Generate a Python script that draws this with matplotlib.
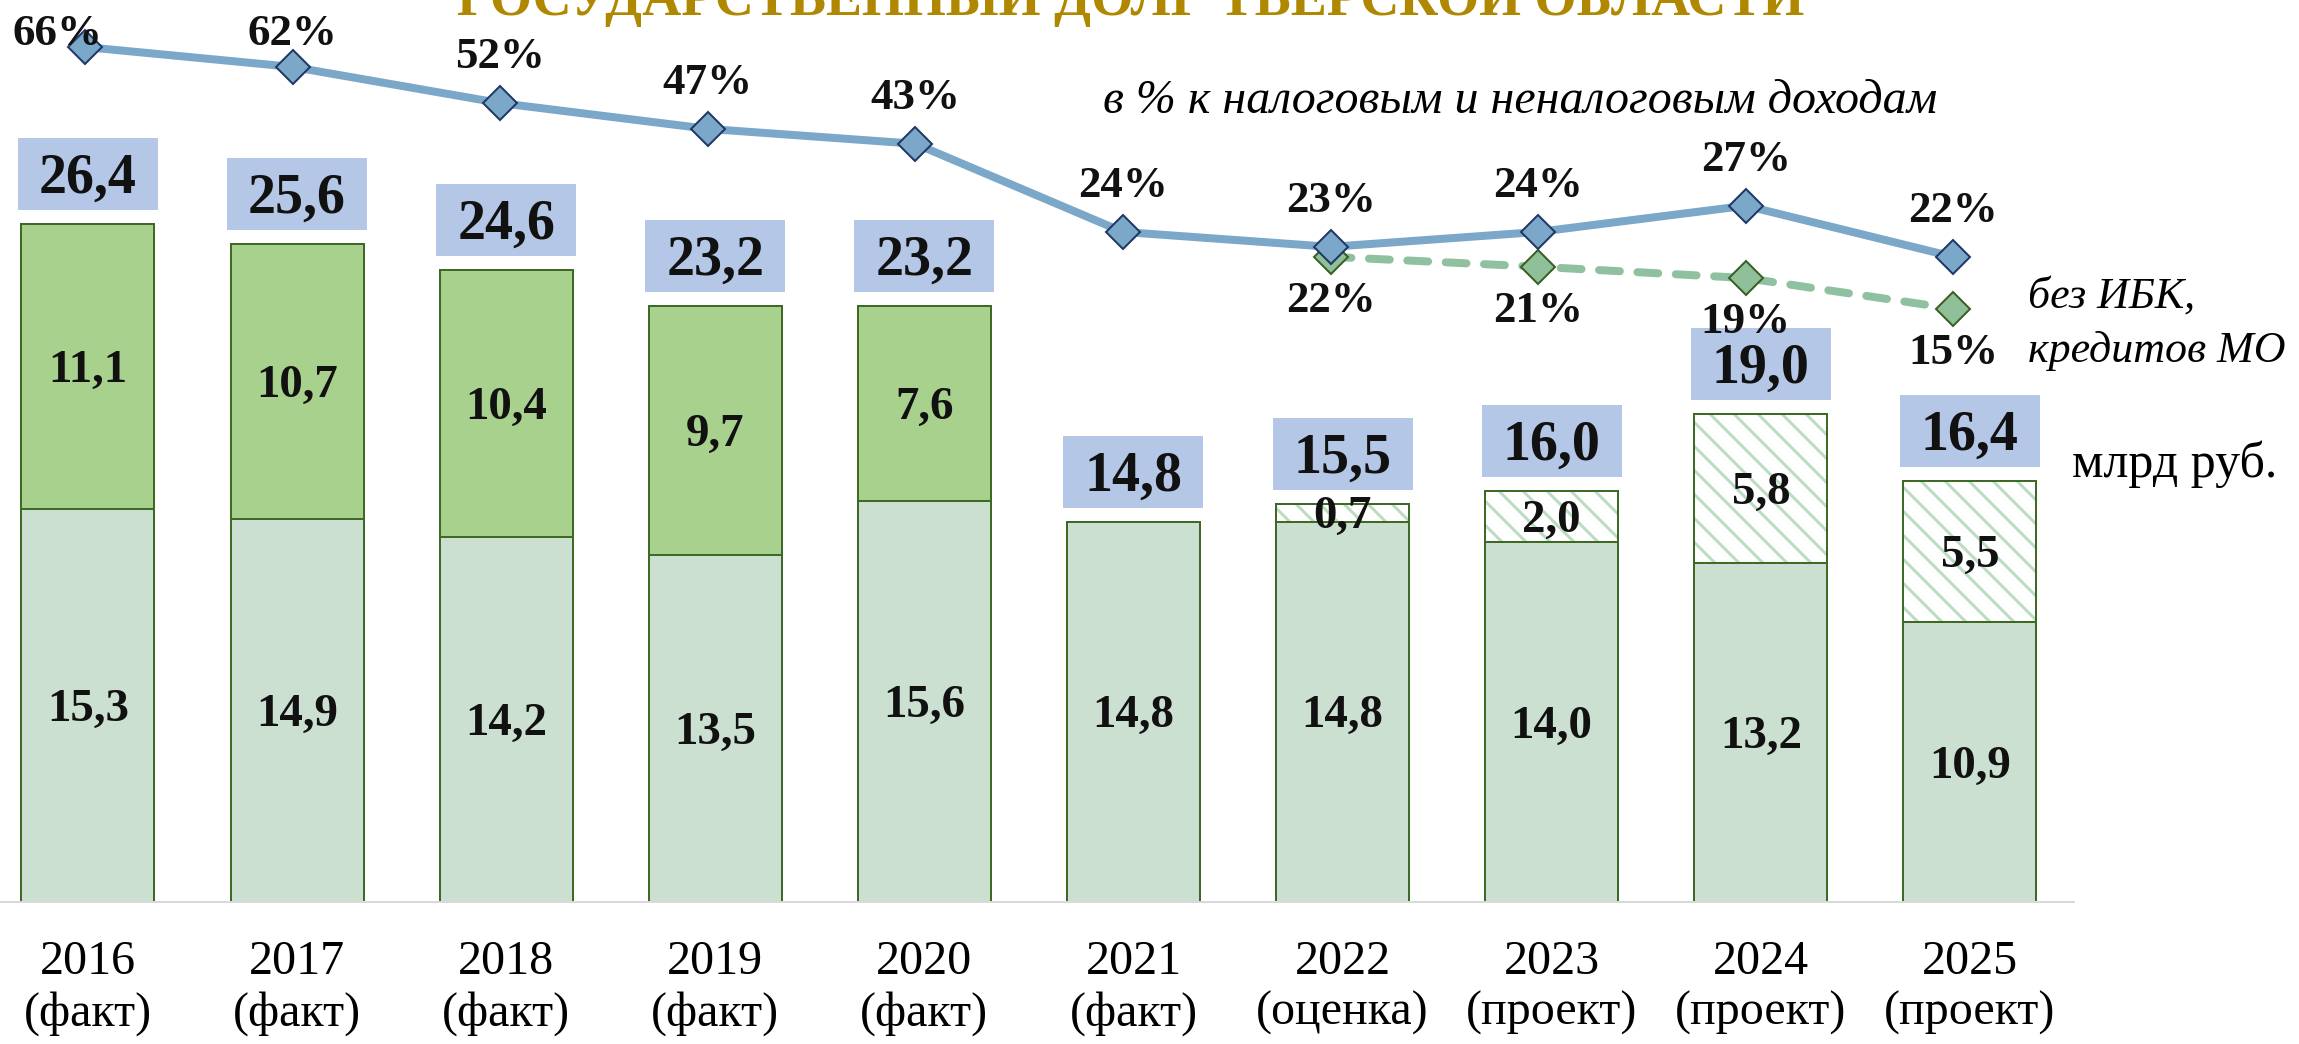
import matplotlib
matplotlib.use('Agg')
import matplotlib.pyplot as plt
import matplotlib.transforms as mtransforms
from matplotlib.patches import Rectangle
import numpy as np

# --- data ---
years = ['2016', '2017', '2018', '2019', '2020', '2021', '2022', '2023', '2024', '2025']
status = ['факт', 'факт', 'факт', 'факт', 'факт', 'факт', 'оценка', 'проект', 'проект', 'проект']

base_debt = [15.3, 14.9, 14.2, 13.5, 15.6, 14.8, 14.8, 14.0, 13.2, 10.9]
budget_credits = [11.1, 10.7, 10.4, 9.7, 7.6, 0, 0, 0, 0, 0]
ibk_credits = [0, 0, 0, 0, 0, 0, 0.7, 2.0, 5.8, 5.5]

# share of tax & non-tax revenue: plotted position and printed label
share_line = [65.3, 60.9, 52.9, 47.2, 43.9, 24.4, 21.1, 24.4, 30.2, 18.9]
share_labels = ['66%', '62%', '52%', '47%', '43%', '24%', '23%', '24%', '27%', '22%']
share_excl_years = ['2022', '2023', '2024', '2025']
share_excl_line = [18.9, 16.7, 14.2, 7.4]
share_excl_labels = ['22%', '21%', '19%', '15%']

title = 'ГОСУДАРСТВЕННЫЙ ДОЛГ ТВЕРСКОЙ ОБЛАСТИ'

plt.rcParams['font.family'] = ['Liberation Serif', 'DejaVu Serif']
plt.rcParams['hatch.linewidth'] = 3

DPI = 72
W, H = 2299, 1044
fig = plt.figure(figsize=(W / DPI, H / DPI), dpi=DPI)

EDGE = '#3F6A26'
x = np.arange(len(years))
base = np.array(base_debt)
cred = np.array(budget_credits)
ibk = np.array(ibk_credits)
total = base + cred + ibk

# --- bars ---
ax = fig.add_axes([-16.6 / W, 142 / H, 2091 / W, 902 / H])
ax.set_xlim(-0.5, 9.5)
ax.set_ylim(0, 902 / 25.7)
bw = 0.636

ax.bar(x, base, width=bw, color='#CBE0D1', edgecolor=EDGE, linewidth=2)
m = cred > 0
ax.bar(x[m], cred[m], bottom=base[m], width=bw, color='#A9D18E', edgecolor=EDGE, linewidth=2)
m2 = ibk > 0
ax.bar(x[m2], ibk[m2], bottom=base[m2], width=bw, color='white', edgecolor='#BCDCC2',
       hatch='\\', linewidth=0)
ax.bar(x[m2], ibk[m2], bottom=base[m2], width=bw, fill=False, edgecolor=EDGE, linewidth=2)

def fmt(v):
    return f'{v:.1f}'.replace('.', ',')

lab_kw = dict(ha='center', va='baseline', fontsize=47, fontweight='bold',
              textcoords='offset points', color='#111111')
for i in x:
    ax.annotate(fmt(base[i]), (i, base[i] / 2), xytext=(0, -15.5), **lab_kw)
    if cred[i] > 0:
        ax.annotate(fmt(cred[i]), (i, base[i] + cred[i] / 2), xytext=(0, -15.5), **lab_kw)
    if ibk[i] > 0:
        ax.annotate(fmt(ibk[i]), (i, base[i] + ibk[i] / 2), xytext=(0, -15.5), **lab_kw)

    # total in a blue box above the bar
    tr = fig.dpi_scale_trans + mtransforms.ScaledTranslation(i, total[i], ax.transData)
    ax.add_patch(Rectangle((-70 / DPI, 14 / DPI), 140 / DPI, 72 / DPI, transform=tr,
                           facecolor='#B4C7E7', edgecolor='none', zorder=3, clip_on=False))
    ax.annotate(fmt(total[i]), (i, total[i]), xytext=(0, 31), textcoords='offset points',
                ha='center', va='baseline', fontsize=56, fontweight='bold', color='#111111',
                zorder=4)

ax.set_xticks(x)
ax.set_xticklabels([f'{y}\n({s})' for y, s in zip(years, status)], fontsize=48,
                   linespacing=1.2)
ax.tick_params(axis='x', length=0, pad=38)
ax.set_yticks([])
for s in ['left', 'right', 'top']:
    ax.spines[s].set_visible(False)
ax.spines['bottom'].set_color('#D9D9D9')
ax.spines['bottom'].set_linewidth(2)

# --- percent lines ---
lx = fig.add_axes([-18.8 / W, 142 / H, 2076 / W, 902 / H])
lx.set_xlim(-0.5, 9.5)
lx.set_ylim(-123.8, 75.7)
lx.axis('off')
lx.patch.set_alpha(0)

xe = np.array([years.index(y) for y in share_excl_years])
lx.plot(xe, share_excl_line, color='#8FC1A0', lw=8, dashes=(2.6, 2.2),
        dash_capstyle='round', marker='D', markersize=24, markerfacecolor='#8FC09A',
        markeredgecolor='#3A5F22', markeredgewidth=2, zorder=2)
lx.plot(x, share_line, color='#7BA7C9', lw=8, marker='D', markersize=24,
        markerfacecolor='#7BA7C9', markeredgecolor='#1F3864', markeredgewidth=2, zorder=3)

top_limit = H - 30 - 15
for i, (v, s) in enumerate(zip(share_line, share_labels)):
    px = lx.transData.transform((i, v))
    by = min(px[1] + 35, top_limit)
    bx = px[0] - (28 if i == 0 else 0)
    lx.text(bx / W, by / H, s, transform=fig.transFigure, ha='center', va='baseline',
            fontsize=45, fontweight='bold', color='#111111', zorder=5)
for i, v, s in zip(xe, share_excl_line, share_excl_labels):
    lx.annotate(s, (i, v), xytext=(0, -55), textcoords='offset points', ha='center',
                va='baseline', fontsize=45, fontweight='bold', color='#111111', zorder=5)

# --- captions ---
fig.text(1131 / W, 1 - 15 / H, title, ha='center', va='baseline', fontsize=54,
         fontweight='bold', color='#B08800')
fig.text(1520 / W, 1 - 113 / H, 'в % к налоговым и неналоговым доходам', ha='center',
         va='baseline', fontsize=48, style='italic')
fig.text(2028 / W, 1 - 308 / H, 'без ИБК,', ha='left', va='baseline', fontsize=44,
         style='italic')
fig.text(2028 / W, 1 - 362 / H, 'кредитов МО', ha='left', va='baseline', fontsize=44,
         style='italic')
fig.text(2072 / W, 1 - 477 / H, 'млрд руб.', ha='left', va='baseline', fontsize=50)

fig.savefig('out.png', dpi=DPI)
